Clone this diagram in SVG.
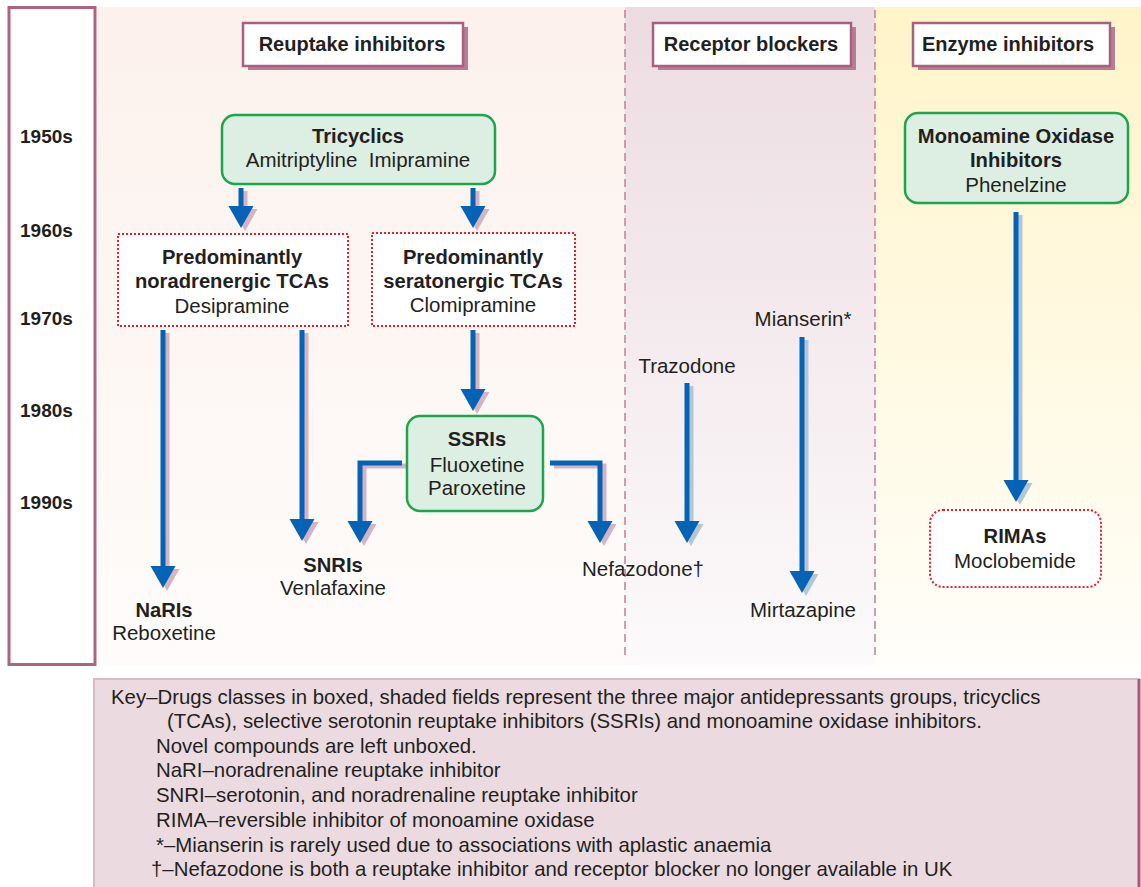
<svg xmlns="http://www.w3.org/2000/svg" width="1141" height="887" viewBox="0 0 1141 887">
<style>
  text { font-family: "Liberation Sans", Arial, sans-serif; fill: #231f20; }
  .yr { font-size: 19px; font-weight: bold; }
  .hd { font-size: 20px; font-weight: bold; text-anchor: middle; }
  .b { font-size: 20.2px; font-weight: bold; text-anchor: middle; }
  .r { font-size: 20.5px; text-anchor: middle; }
  .hdbox { fill: #ffffff; stroke: #a9607f; stroke-width: 2.5; }
  .hdsh { fill: #b97c95; }
  .green { fill: #ddeee2; stroke: #1ba64c; stroke-width: 2.5; }
  .dotted { fill: #ffffff; stroke: #e2202d; stroke-width: 2; stroke-dasharray: 2 2; }
  .divider { stroke: #c27d9a; stroke-width: 1.5; stroke-dasharray: 8 5; fill: none; }
  .shaft { stroke: #0563b5; stroke-width: 5; fill: none; }
  .head { fill: #0563b5; }
  .shp { stroke: #d6b3c3; stroke-width: 5; fill: none; }
  .shpH { fill: #d6b3c3; }
  .shb { stroke: #b3c6d6; stroke-width: 5; fill: none; }
  .shbH { fill: #b3c6d6; }
  .key { font-size: 20.4px; }
</style>
<defs>
  <linearGradient id="gReup" x1="0" y1="0" x2="0" y2="1">
    <stop offset="0" stop-color="#fcf1ec"/>
    <stop offset="1" stop-color="#fefcfb"/>
  </linearGradient>
  <linearGradient id="gRec" x1="0" y1="0" x2="0" y2="1">
    <stop offset="0" stop-color="#ecdce2"/>
    <stop offset="1" stop-color="#fcfafb"/>
  </linearGradient>
  <linearGradient id="gEnz" x1="0" y1="0" x2="0" y2="1">
    <stop offset="0" stop-color="#fff4c9"/>
    <stop offset="1" stop-color="#fffef9"/>
  </linearGradient>
</defs>
<rect x="0" y="0" width="1141" height="887" fill="#ffffff"/>

<!-- column backgrounds -->
<g id="backgrounds">
  <rect x="97" y="7" width="528" height="658" fill="url(#gReup)"/>
  <rect x="625" y="7" width="250" height="658" fill="url(#gRec)"/>
  <rect x="875" y="7" width="266" height="658" fill="url(#gEnz)"/>
  <line class="divider" x1="625" y1="10" x2="625" y2="660"/>
  <line class="divider" x1="875" y1="10" x2="875" y2="660"/>
</g>

<!-- timeline -->
<g id="timeline">
  <rect x="9" y="7.5" width="86" height="657" fill="#ffffff" stroke="#ad6483" stroke-width="3"/>
  <text class="yr" x="20" y="143">1950s</text>
  <text class="yr" x="20" y="237">1960s</text>
  <text class="yr" x="20" y="325">1970s</text>
  <text class="yr" x="20" y="417">1980s</text>
  <text class="yr" x="20" y="509">1990s</text>
</g>

<!-- headers -->
<g id="header-reuptake">
  <rect class="hdsh" x="248" y="27" width="220" height="43"/>
  <rect class="hdbox" x="243" y="23" width="220" height="43"/>
  <text class="hd" x="352" y="51">Reuptake inhibitors</text>
</g>
<g id="header-receptor">
  <rect class="hdsh" x="658" y="27" width="198" height="43"/>
  <rect class="hdbox" x="653" y="23" width="198" height="43"/>
  <text class="hd" x="751" y="51">Receptor blockers</text>
</g>
<g id="header-enzyme">
  <rect class="hdsh" x="918" y="27" width="197" height="43"/>
  <rect class="hdbox" x="913" y="23" width="197" height="43"/>
  <text class="hd" x="1008" y="51">Enzyme inhibitors</text>
</g>

<!-- connectors -->
<g id="connectors">
  <!-- shadows -->
  <g transform="translate(4,3)">
    <path class="shp" d="M241,188 V206"/><path class="shpH" d="M228.5,206 H253.5 L241,228 Z"/>
    <path class="shp" d="M473,188 V206"/><path class="shpH" d="M460.5,206 H485.5 L473,228 Z"/>
    <path class="shp" d="M163,330 V566"/><path class="shpH" d="M150.5,566 H175.5 L163,588 Z"/>
    <path class="shp" d="M302,330 V519"/><path class="shpH" d="M289.5,519 H314.5 L302,541 Z"/>
    <path class="shp" d="M473,330 V389"/><path class="shpH" d="M460.5,389 H485.5 L473,411 Z"/>
    <path class="shp" d="M402,463 H360 V521"/><path class="shpH" d="M347.5,521 H372.5 L360,543 Z"/>
    <path class="shp" d="M550,463 H600 V521"/><path class="shpH" d="M587.5,521 H612.5 L600,543 Z"/>
    <path class="shb" d="M687,383 V521"/><path class="shbH" d="M674.5,521 H699.5 L687,543 Z"/>
    <path class="shb" d="M802,337 V571"/><path class="shbH" d="M789.5,571 H814.5 L802,593 Z"/>
    <path class="shb" d="M1016,212 V480"/><path class="shbH" d="M1003.5,480 H1028.5 L1016,502 Z"/>
  </g>
  <!-- arrows -->
  <path class="shaft" d="M241,188 V206"/><path class="head" d="M228.5,206 H253.5 L241,228 Z"/>
  <path class="shaft" d="M473,188 V206"/><path class="head" d="M460.5,206 H485.5 L473,228 Z"/>
  <path class="shaft" d="M163,330 V566"/><path class="head" d="M150.5,566 H175.5 L163,588 Z"/>
  <path class="shaft" d="M302,330 V519"/><path class="head" d="M289.5,519 H314.5 L302,541 Z"/>
  <path class="shaft" d="M473,330 V389"/><path class="head" d="M460.5,389 H485.5 L473,411 Z"/>
  <path class="shaft" d="M402,463 H360 V521"/><path class="head" d="M347.5,521 H372.5 L360,543 Z"/>
  <path class="shaft" d="M550,463 H600 V521"/><path class="head" d="M587.5,521 H612.5 L600,543 Z"/>
  <path class="shaft" d="M687,383 V521"/><path class="head" d="M674.5,521 H699.5 L687,543 Z"/>
  <path class="shaft" d="M802,337 V571"/><path class="head" d="M789.5,571 H814.5 L802,593 Z"/>
  <path class="shaft" d="M1016,212 V480"/><path class="head" d="M1003.5,480 H1028.5 L1016,502 Z"/>
</g>

<!-- nodes -->
<g id="node-tricyclics">
  <rect class="green" x="222" y="115" width="273" height="69" rx="13"/>
  <text class="b" x="358" y="143">Tricyclics</text>
  <text class="r" x="358" y="167">Amitriptyline&#160; Imipramine</text>
</g>
<g id="node-noradrenergic">
  <rect class="dotted" x="118" y="234" width="230" height="92"/>
  <text class="b" x="232" y="264">Predominantly</text>
  <text class="b" x="232" y="288">noradrenergic TCAs</text>
  <text class="r" x="232" y="313">Desipramine</text>
</g>
<g id="node-seratonergic">
  <rect class="dotted" x="372" y="233" width="203" height="93"/>
  <text class="b" x="473" y="264">Predominantly</text>
  <text class="b" x="473" y="288">seratonergic TCAs</text>
  <text class="r" x="473" y="312">Clomipramine</text>
</g>
<g id="node-ssris">
  <rect class="green" x="407" y="416" width="136" height="95" rx="13"/>
  <text class="b" x="477" y="446">SSRIs</text>
  <text class="r" x="477" y="472">Fluoxetine</text>
  <text class="r" x="477" y="495">Paroxetine</text>
</g>
<g id="node-snris">
  <text class="b" x="333" y="572">SNRIs</text>
  <text class="r" x="333" y="595">Venlafaxine</text>
</g>
<g id="node-naris">
  <text class="b" x="164" y="617">NaRIs</text>
  <text class="r" x="164" y="640">Reboxetine</text>
</g>
<g id="node-nefazodone">
  <text class="r" x="643" y="576">Nefazodone†</text>
</g>
<g id="node-trazodone">
  <text class="r" x="687" y="373">Trazodone</text>
</g>
<g id="node-mianserin">
  <text class="r" x="803" y="326">Mianserin*</text>
</g>
<g id="node-mirtazapine">
  <text class="r" x="803" y="617">Mirtazapine</text>
</g>
<g id="node-maoi">
  <rect class="green" x="905" y="113" width="223" height="90" rx="13"/>
  <text class="b" x="1016" y="143">Monoamine Oxidase</text>
  <text class="b" x="1016" y="167">Inhibitors</text>
  <text class="r" x="1016" y="192">Phenelzine</text>
</g>
<g id="node-rimas">
  <rect class="dotted" x="930" y="510" width="171" height="77" rx="13"/>
  <text class="b" x="1015" y="543">RIMAs</text>
  <text class="r" x="1015" y="568">Moclobemide</text>
</g>

<!-- key -->
<g id="key">
  <rect x="94" y="679" width="1045" height="215" fill="#ebdbe0" stroke="#d9bac5" stroke-width="2"/>
  <line x1="1139" y1="679" x2="1139" y2="887" stroke="#a8587c" stroke-width="3"/>
  <text class="key" x="111" y="704">Key–Drugs classes in boxed, shaded fields represent the three major antidepressants groups, tricyclics</text>
  <text class="key" x="167" y="728">(TCAs), selective serotonin reuptake inhibitors (SSRIs) and monoamine oxidase inhibitors.</text>
  <text class="key" x="156" y="753">Novel compounds are left unboxed.</text>
  <text class="key" x="156" y="777">NaRI–noradrenaline reuptake inhibitor</text>
  <text class="key" x="156" y="802">SNRI–serotonin, and noradrenaline reuptake inhibitor</text>
  <text class="key" x="156" y="827">RIMA–reversible inhibitor of monoamine oxidase</text>
  <text class="key" x="156" y="852">*–Mianserin is rarely used due to associations with aplastic anaemia</text>
  <text class="key" x="151" y="876">†–Nefazodone is both a reuptake inhibitor and receptor blocker no longer available in UK</text>
</g>
</svg>
